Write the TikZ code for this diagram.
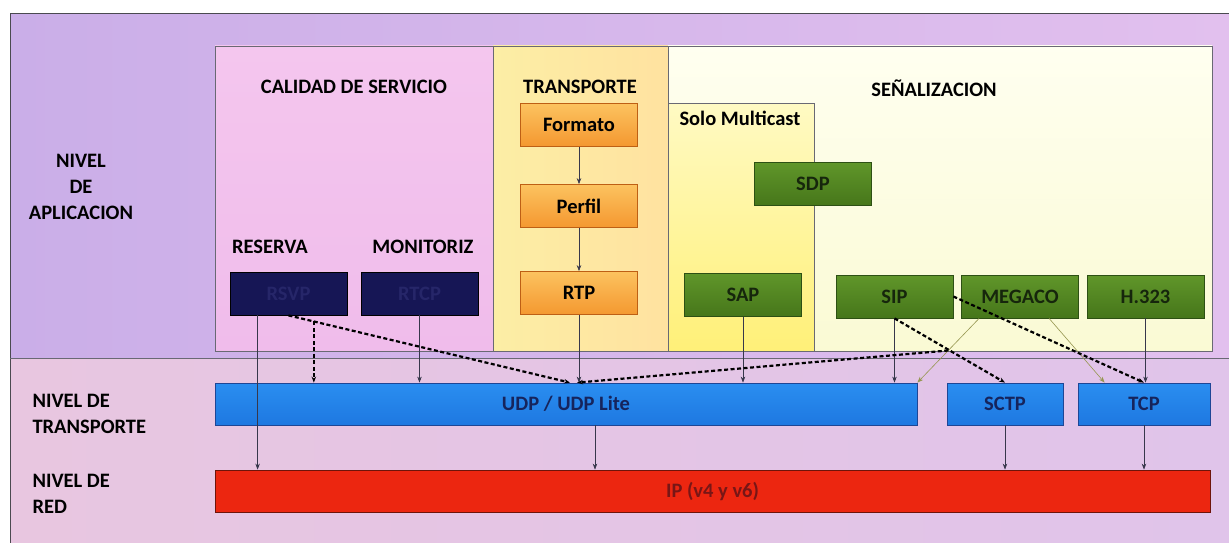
\documentclass[tikz,border=0pt]{standalone}
\usepackage{fontspec}
\setmainfont{Carlito}
\usetikzlibrary{arrows.meta,calc}

\definecolor{fondoapl}{RGB}{202,174,232}
\definecolor{fondoapld}{RGB}{226,192,238}
\definecolor{fondored}{RGB}{232,198,224}
\definecolor{fondoredd}{RGB}{224,196,234}
\definecolor{rosa}{RGB}{244,198,238}
\definecolor{rosab}{RGB}{240,188,235}
\definecolor{amarillo}{RGB}{252,238,165}
\definecolor{amarillod}{RGB}{255,226,160}
\definecolor{crema}{RGB}{255,255,240}
\definecolor{cremab}{RGB}{250,250,212}
\definecolor{multi}{RGB}{255,250,195}
\definecolor{multib}{RGB}{255,240,120}
\definecolor{naranjaa}{RGB}{252,195,95}
\definecolor{naranjab}{RGB}{244,152,48}
\definecolor{naranjaborde}{RGB}{190,95,20}
\definecolor{marino}{RGB}{22,22,85}
\definecolor{marinotxt}{RGB}{38,38,105}
\definecolor{verdea}{RGB}{96,150,42}
\definecolor{verdeb}{RGB}{70,118,26}
\definecolor{verdeborde}{RGB}{45,80,20}
\definecolor{verdetxt}{RGB}{22,38,12}
\definecolor{azul}{RGB}{42,142,240}
\definecolor{azulb}{RGB}{30,120,225}
\definecolor{azulborde}{RGB}{30,70,150}
\definecolor{azultxt}{RGB}{22,36,92}
\definecolor{rojo}{RGB}{236,38,16}
\definecolor{rojoborde}{RGB}{110,20,10}
\definecolor{rojotxt}{RGB}{120,22,22}
\definecolor{borde}{RGB}{105,105,115}
\definecolor{linea}{RGB}{55,55,75}
\definecolor{oliva}{RGB}{150,150,80}

\begin{document}
\begin{tikzpicture}[x=1pt,y=-1pt,>={Stealth[length=6pt,width=4.5pt]},
    txt/.style={font=\bfseries\fontsize{20.5}{26}\selectfont},
    caja/.style={txt,draw,line width=0.8pt,minimum width=117pt,minimum height=43pt,inner sep=0pt},
    naranja/.style={caja,draw=naranjaborde,top color=naranjaa,bottom color=naranjab,text=black},
    oscuro/.style={caja,draw=black,fill=marino,text=marinotxt},
    verde/.style={caja,draw=verdeborde,top color=verdea,bottom color=verdeb,text=verdetxt},
    celeste/.style={caja,draw=azulborde,top color=azul,bottom color=azulb,text=azultxt,minimum height=42pt},
    flecha/.style={->,line width=0.6pt,draw=linea},
    trazos/.style={->,line width=2.2pt,dash pattern=on 4pt off 2.5pt,draw=black}]
    \useasboundingbox (0,0) rectangle (1229,543);

    % fondo de los niveles
    \shade[left color=fondoapl,right color=fondoapld] (10,14) rectangle (1229,358);
    \shade[left color=fondored,right color=fondoredd] (10,358) rectangle (1229,543);
    \draw[line width=1pt,draw=borde!70!black] (1229,14) -- (10,14) -- (10,543);
    \draw[line width=1pt,draw=borde] (10,358) -- (1229,358);

    % columnas del nivel de aplicacion
    \shade[top color=rosa,bottom color=rosab] (215,46) rectangle (493,351);
    \shade[left color=amarillo,right color=amarillod] (493,46) rectangle (668,351);
    \shade[top color=crema,bottom color=cremab] (668,46) rectangle (1212,351);
    \shade[top color=multi,bottom color=multib] (668,103) rectangle (814,351);
    \draw[borde,line width=0.8pt] (668,103) -- (814,103) -- (814,351);
    \draw[borde,line width=0.8pt] (493,46) -- (493,351) (668,46) -- (668,351);
    \draw[borde,line width=0.8pt] (215,46) rectangle (1212,351);

    % textos
    \node[txt] (apl) at (81,187) [align=center] {NIVEL\\DE\\APLICACION};
    \node[txt,anchor=west] (trans) at (29,414) [align=left] {NIVEL DE\\TRANSPORTE};
    \node[txt,anchor=west] (red) at (29,494) [align=left] {NIVEL DE\\RED};
    \node[txt] (calidad) at (354,87) {CALIDAD DE SERVICIO};
    \node[txt] (transporte) at (580,87) {TRANSPORTE};
    \node[txt] (senal) at (934,88) {SEÑALIZACION};
    \node[txt] (multicast) at (740,118) {Solo Multicast};
    \node[txt] (reserva) at (270,247) {RESERVA};
    \node[txt] (monitoriz) at (423,247) {MONITORIZ};

    % protocolos
    \node[naranja] (formato) at (579,125) {Formato};
    \node[naranja] (perfil) at (579,206) {Perfil};
    \node[naranja] (rtp) at (579,293) {RTP};
    \node[oscuro] (rsvp) at (288.5,293.5) {RSVP};
    \node[oscuro] (rtcp) at (419.5,293.5) {RTCP};
    \node[verde] (sdp) at (813,184) {SDP};
    \node[verde] (sap) at (743,295) {SAP};
    \node[verde] (sip) at (894.5,296.5) {SIP};
    \node[verde] (megaco) at (1020,296.5) {MEGACO};
    \node[verde] (h323) at (1145.5,296.5) {H.323};
    \node[celeste,minimum width=702pt] (udp) at (566,404) {UDP / UDP Lite};
    \node[celeste,minimum width=116pt] (sctp) at (1005,404) {SCTP};
    \node[celeste,minimum width=132pt] (tcp) at (1144,404) {TCP};
    \node[caja,draw=rojoborde,fill=rojo,text=rojotxt,minimum width=995pt,minimum height=42pt] (ip) at (712.5,491) {IP (v4 y v6)};

    % conexiones
    \draw[flecha] (formato) -- (perfil);
    \draw[flecha] (perfil) -- (rtp);
    \draw[flecha] (rtp.south) -- (rtp.south |- udp.north);
    \draw[flecha] (rtcp.south) -- (rtcp.south |- udp.north);
    \draw[flecha] ([xshift=28pt]rsvp.south west) -- ([xshift=28pt]rsvp.south west |- ip.north);
    \draw[flecha] (sap.south) -- (sap.south |- udp.north);
    \draw[flecha] (sip.south) -- (sip.south |- udp.north);
    \draw[flecha] (h323.south) -- (h323.south |- tcp.north);
    \draw[flecha,draw=oliva] ([xshift=18pt]megaco.south west) -- (udp.north east);
    \draw[flecha,draw=oliva] ([xshift=88pt]megaco.south west) -- ([xshift=27pt]tcp.north west);
    \draw[flecha] ([xshift=29pt]udp.south) -- ([xshift=29pt]udp.south |- ip.north);
    \draw[flecha] (sctp.south) -- (sctp.south |- ip.north);
    \draw[flecha] (tcp.south) -- (tcp.south |- ip.north);

    \coordinate (udpizq) at ([xshift=4pt]udp.north);
    \coordinate (udpder) at ([xshift=11pt]udp.north);
    \coordinate (rsvpk) at ($(rsvp.south)!0.09!(udpizq)$);
    \coordinate (megk) at ($([xshift=18pt]megaco.south west)!0.5!(udp.north east)$);
    \draw[trazos] (rsvp.south) -- (udpizq);
    \draw[trazos] (rsvpk) -- (rsvpk |- udp.north);
    \draw[trazos] (megk) -- (udpder);
    \draw[trazos] (sip.south) -- (sctp.north);
    \draw[trazos] (sip.east) -- (tcp.north);
\end{tikzpicture}
\end{document}
